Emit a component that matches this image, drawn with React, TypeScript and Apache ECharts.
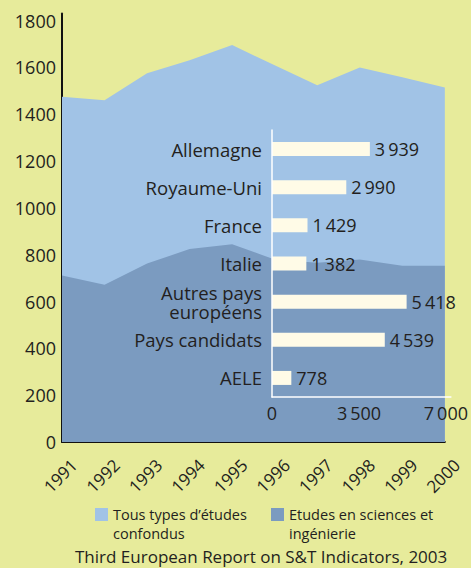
import React, { useEffect, useRef } from "react";
import * as echarts from "echarts";

const years = ["1991", "1992", "1993", "1994", "1995", "1996", "1997", "1998", "1999", "2000"];
const totalStudents = [1474, 1459, 1575, 1630, 1695, 1609, 1524, 1599, 1558, 1514];
const scienceStudents = [711, 672, 762, 824, 845, 779, 766, 779, 753, 753];
const seriesNames = ["Tous types d’études confondus", "Etudes en sciences et ingénierie"];
const legendLabels = ["Tous types d’études\nconfondus", "Etudes en sciences et\ningénierie"];
const regions = ["Allemagne", "Royaume-Uni", "France", "Italie", "Autres pays européens", "Pays candidats", "AELE"];
const regionLabels = ["Allemagne", "Royaume-Uni", "France", "Italie", "Autres pays\neuropéens", "Pays candidats", "AELE"];
const regionValues = [3939, 2990, 1429, 1382, 5418, 4539, 778];
const sourceText = "Third European Report on S&T Indicators, 2003";

const BG = "#e7eb9b";
const LIGHT = "#a1c3e6";
const DARK = "#7b9bc0";
const CREAM = "#fffbe7";
const INK = "#231f20";
const FONT = "'Open Sans', sans-serif";

const thin = (v: number) => {
  const s = String(Math.round(v));
  return s.length > 3 ? s.slice(0, s.length - 3) + "\u2009" + s.slice(s.length - 3) : s;
};

export default function App() {
  const ref = useRef<HTMLDivElement>(null);
  useEffect(() => {
    if (!ref.current) return;
    const chart = echarts.init(ref.current, undefined, { renderer: "svg" });
    const legendBase = (i: number, left: number) => ({
      data: [{ name: seriesNames[i], itemStyle: { color: i === 0 ? LIGHT : DARK } }],
      left,
      top: 486,
      padding: 0,
      icon: "rect",
      itemWidth: 13,
      itemHeight: 13,
      itemGap: 0,
      selectedMode: false,
      formatter: () => "\n" + legendLabels[i],
      textStyle: {
        fontFamily: FONT,
        fontSize: 14.5,
        lineHeight: 19,
        color: INK,
      },
    });
    chart.setOption({
      animation: false,
      backgroundColor: BG,
      textStyle: { fontFamily: FONT, color: INK },
      title: {
        text: sourceText,
        left: 75,
        top: 548,
        padding: 0,
        textStyle: { fontFamily: FONT, fontSize: 17, fontWeight: "normal", color: INK },
      },
      legend: [legendBase(0, 95), legendBase(1, 271)],
      grid: [
        { left: 62, right: 0, top: 13.5, bottom: 126 },
        { left: 272, top: 130, width: 184, height: 267 },
      ],
      xAxis: [
        {
          type: "category",
          gridIndex: 0,
          data: years,
          boundaryGap: false,
          axisLine: { show: true, lineStyle: { color: "#111", width: 2 } },
          axisTick: { show: false },
          axisLabel: {
            rotate: 45,
            interval: 0,
            fontSize: 17,
            lineHeight: 34,
            verticalAlign: "top",
            color: INK,
            fontFamily: FONT,
            margin: 8,
          },
          splitLine: { show: false },
        },
        {
          type: "value",
          gridIndex: 1,
          min: 0,
          max: 7200,
          interval: 3500,
          z: 10,
          axisLine: { show: true, lineStyle: { color: "#ffffff", width: 1.5 } },
          axisTick: { show: false },
          splitLine: { show: false },
          axisLabel: {
            showMaxLabel: false,
            fontSize: 18,
            color: INK,
            fontFamily: FONT,
            margin: 7,
            formatter: (v: number) => thin(v),
          },
        },
      ],
      yAxis: [
        {
          type: "value",
          gridIndex: 0,
          min: 0,
          max: 1830,
          interval: 200,
          axisLine: { show: true, lineStyle: { color: "#111", width: 2 } },
          axisTick: { show: false },
          splitLine: { show: false },
          axisLabel: {
            showMaxLabel: false,
            fontSize: 18,
            color: INK,
            fontFamily: FONT,
            margin: 6,
            formatter: (v: number) => String(v),
          },
        },
        {
          type: "category",
          gridIndex: 1,
          data: regions,
          inverse: true,
          z: 10,
          axisLine: { show: true, lineStyle: { color: "#ffffff", width: 1.5 } },
          axisTick: { show: false },
          axisLabel: {
            fontSize: 18.5,
            lineHeight: 19,
            color: INK,
            fontFamily: FONT,
            margin: 10,
            formatter: (v: string) => regionLabels[regions.indexOf(v)],
          },
        },
      ],
      series: [
        {
          name: seriesNames[0],
          type: "line",
          xAxisIndex: 0,
          yAxisIndex: 0,
          data: totalStudents,
          symbol: "none",
          showSymbol: false,
          itemStyle: { color: LIGHT },
          lineStyle: { width: 0, color: LIGHT },
          areaStyle: { color: LIGHT, opacity: 1 },
          z: 1,
        },
        {
          name: seriesNames[1],
          type: "line",
          xAxisIndex: 0,
          yAxisIndex: 0,
          data: scienceStudents,
          symbol: "none",
          showSymbol: false,
          itemStyle: { color: DARK },
          lineStyle: { width: 0, color: DARK },
          areaStyle: { color: DARK, opacity: 1 },
          z: 2,
        },
        {
          name: "bars",
          type: "bar",
          xAxisIndex: 1,
          yAxisIndex: 1,
          data: regionValues,
          barWidth: 14,
          itemStyle: { color: CREAM },
          z: 5,
          label: {
            show: true,
            position: "right",
            distance: 5,
            fontSize: 18,
            color: INK,
            fontFamily: FONT,
            formatter: (p: any) => thin(p.value),
          },
        },
      ],
    });
    return () => chart.dispose();
  }, []);
  return (
    <div
      ref={ref}
      style={{ position: "fixed", left: 0, top: 0, width: 471, height: 568, background: BG }}
    />
  );
}
